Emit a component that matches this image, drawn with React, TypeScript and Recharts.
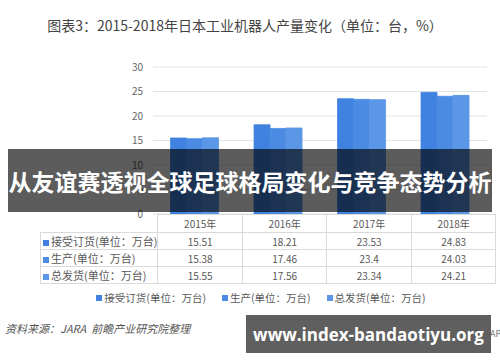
import React from 'react';
import { BarChart, Bar, XAxis, YAxis, CartesianGrid, Legend } from 'recharts';

const years = ['2015年', '2016年', '2017年', '2018年'];
const orders = [15.51, 18.21, 23.53, 24.83];
const production = [15.38, 17.46, 23.4, 24.03];
const shipments = [15.55, 17.56, 23.34, 24.21];
const yTicks = [0, 5, 10, 15, 20, 25, 30];

const series = [
  { key: 'orders', name: '接受订货(单位：万台)', color: '#3f82e0', values: orders },
  { key: 'production', name: '生产(单位：万台)', color: '#4b8be3', values: production },
  { key: 'shipments', name: '总发货(单位：万台)', color: '#5b97e6', values: shipments },
];

const data = years.map((year, i) => ({
  year,
  orders: orders[i],
  production: production[i],
  shipments: shipments[i],
}));

const FONT = '"Noto Sans CJK SC", "Noto Sans", sans-serif';
const border = '1px solid #dadada';

function LegendRow() {
  return (
    <div style={{ display: 'flex', justifyContent: 'center', gap: 16, fontSize: 10.5, color: '#595959' }}>
      {series.map((s) => (
        <span key={s.key} style={{ display: 'flex', alignItems: 'center' }}>
          <span style={{ width: 6, height: 6, background: s.color, marginRight: 2, display: 'inline-block' }} />
          {s.name}
        </span>
      ))}
    </div>
  );
}

function DataTable() {
  const cell: React.CSSProperties = {
    border,
    width: 83.5,
    textAlign: 'center',
    padding: 0,
    fontSize: 10,
    color: '#595959',
  };
  return (
    <table
      style={{
        position: 'absolute',
        left: 40,
        top: 214,
        borderCollapse: 'collapse',
        fontFamily: FONT,
        tableLayout: 'fixed',
      }}
    >
      <tbody>
        <tr style={{ height: 18 }}>
          <td style={{ width: 112, padding: 0, borderRight: border }} />
          {years.map((y) => (
            <td key={y} style={cell}>
              {y}
            </td>
          ))}
        </tr>
        {series.map((s) => (
          <tr key={s.key} style={{ height: 17 }}>
            <td style={{ border, padding: '0 0 0 2px', fontSize: 11, color: '#595959', whiteSpace: 'nowrap' }}>
              <span style={{ display: 'inline-block', width: 6, height: 6, background: s.color, marginRight: 2 }} />
              {s.name}
            </td>
            {s.values.map((v, i) => (
              <td key={i} style={cell}>
                {v}
              </td>
            ))}
          </tr>
        ))}
      </tbody>
    </table>
  );
}

export default function App() {
  return (
    <div
      style={{
        position: 'fixed',
        left: 0,
        top: 0,
        width: 500,
        height: 362,
        background: '#fff',
        overflow: 'hidden',
        fontFamily: FONT,
      }}
    >
      <div
        style={{
          position: 'absolute',
          top: 15,
          left: 0,
          width: 490,
          textAlign: 'center',
          fontSize: 14,
          color: '#444',
        }}
      >
        图表3：2015-2018年日本工业机器人产量变化（单位：台，%）
      </div>

      <BarChart
        width={500}
        height={362}
        data={data}
        margin={{ top: 52, right: 13, bottom: 148, left: 113 }}
        barCategoryGap="21%"
        barGap={0}
        style={{ position: 'absolute', left: 0, top: 0 }}
      >
        <CartesianGrid vertical={false} stroke="#e3e3e3" />
        <XAxis dataKey="year" tick={false} tickLine={false} axisLine={{ stroke: '#dadada' }} height={0} />
        <YAxis
          width={40}
          domain={[0, 30]}
          ticks={yTicks}
          axisLine={false}
          tickLine={false}
          tick={{ fontSize: 10, fill: '#666' }}
          tickMargin={4}
        />
        <Legend
          verticalAlign="top"
          content={() => <LegendRow />}
          wrapperStyle={{ top: 290, left: 11, width: 500 }}
        />
        {series.map((s) => (
          <Bar
            key={s.key}
            dataKey={s.key}
            name={s.name}
            fill={s.color}
            stroke={s.color}
            strokeWidth={0.8}
            isAnimationActive={false}
          />
        ))}
      </BarChart>

      <DataTable />

      <div
        style={{
          position: 'absolute',
          left: 5,
          top: 320,
          fontSize: 11,
          fontStyle: 'italic',
          color: '#555',
        }}
      >
        资料来源：JARA&nbsp;&nbsp;前瞻产业研究院整理
      </div>
      <div style={{ position: 'absolute', left: 490, top: 327, fontSize: 9, color: '#777' }}>APP</div>

      <div
        style={{
          position: 'absolute',
          left: 8,
          top: 149,
          width: 484,
          height: 63,
          background: 'rgba(0,0,0,0.64)',
          color: '#fff',
          fontWeight: 'bold',
          fontSize: 23,
          display: 'flex',
          alignItems: 'center',
          justifyContent: 'center',
          whiteSpace: 'nowrap',
        }}
      >
        从友谊赛透视全球足球格局变化与竞争态势分析
      </div>
      <div
        style={{
          position: 'absolute',
          left: 246,
          top: 315,
          width: 245,
          height: 38,
          background: '#5f5f5f',
          color: '#fff',
          fontWeight: 'bold',
          fontSize: 17,
          display: 'flex',
          alignItems: 'center',
          justifyContent: 'center',
          whiteSpace: 'nowrap',
          fontFamily: '"Open Sans", "DejaVu Sans", sans-serif',
        }}
      >
        www.index-bandaotiyu.org
      </div>
    </div>
  );
}
